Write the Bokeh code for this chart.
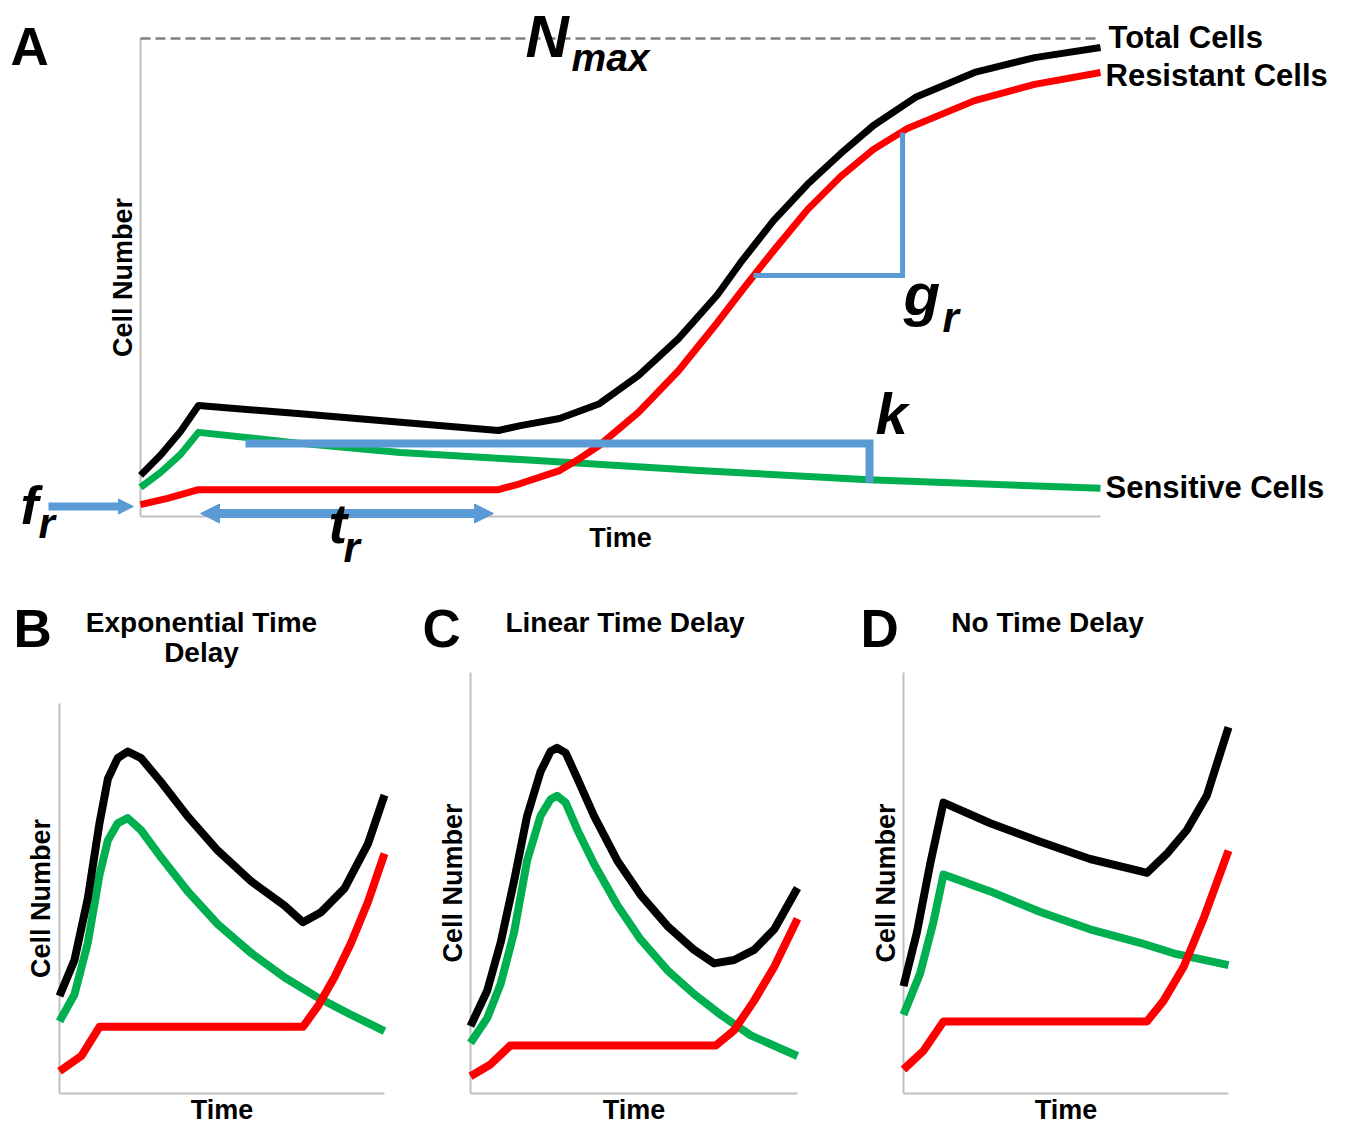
import math
from bokeh.plotting import figure
from bokeh.layouts import column, row
from bokeh.models import Label, Arrow, NormalHead, Range1d
from bokeh.embed import file_html
from bokeh.resources import INLINE

FONT = "Liberation Sans"
BLACK = "#000000"
RED = "#FF0000"
GREEN = "#00B050"
BLUE = "#5B9BD5"
AXIS = "#BFBFBF"

# ---------------- shared axis extents (time 0-100, cell number 0-100; 100 = N_max)
time_bounds = [0, 100]
cell_bounds = [0, 100]
zero_line = [0, 0]

# ---------------- Panel A data
a_time_total = [0, 2.08, 4.17, 6.04, 16.67, 27.08, 37.29, 39.58, 43.65, 47.81, 51.88, 56.04,
                60.1, 62.5, 65.94, 69.48, 72.92, 76.35, 80.73, 86.88, 93.13, 100]
a_total = [8.6, 12.8, 17.8, 23.2, 21.5, 19.7, 18.0, 19.0, 20.5, 23.6, 29.5, 37.2,
           46.4, 53.1, 61.9, 69.5, 75.9, 81.8, 87.7, 92.9, 96.0, 98.1]
a_time_res = [0, 2.81, 6.04, 37.29, 39.58, 43.65, 45.73, 47.81, 51.88, 56.04, 60.1, 62.5, 65.94,
              69.48, 72.92, 76.35, 79.9, 86.88, 93.13, 100]
a_res = [2.5, 3.8, 5.6, 5.6, 6.9, 9.6, 12.1, 14.9, 21.8, 30.5, 40.6, 46.9, 55.6,
         64.2, 71.1, 76.8, 81.2, 87.0, 90.4, 92.9]
a_time_sens = [0, 2.08, 4.17, 6.04, 16.67, 27.08, 39.58, 58.13, 75.83, 100]
a_sens = [6.1, 9.2, 13.0, 17.6, 15.3, 13.4, 11.9, 9.6, 7.7, 5.9]
n_max = [100, 100]

# parameter markers in panel A
k_time = [10.94, 75.94, 75.94]
k_level = [15.27, 15.27, 7.11]
g_time = [63.85, 79.38, 79.38]
g_level = [50.42, 50.42, 80.33]
fr_time = [-9.58, -0.73]
fr_level = 2.09
tr_time = [6.25, 36.77]
tr_level = 0.63

# ---------------- Panel B: exponential time delay
b_time_total = [0, 4.6, 8.7, 12.3, 14.9, 17.9, 21.0, 25.1, 31.3, 39.5, 48.7, 59.0, 69.2, 74.9, 80.5, 87.7, 94.9, 100]
b_total = [25.0, 34.2, 50.0, 69.3, 80.7, 86.0, 87.7, 86.0, 79.8, 71.0, 62.3, 54.4, 48.2, 43.9, 46.5, 52.6, 64.0, 76.5]
b_time_sens = [0, 4.6, 8.7, 12.3, 14.9, 17.9, 21.0, 25.1, 31.3, 39.5, 48.7, 59.0, 69.2, 79.5, 89.7, 100]
b_sens = [18.5, 25.4, 38.6, 56.1, 64.9, 69.3, 70.6, 67.5, 60.5, 51.8, 43.4, 36.0, 29.8, 24.6, 20.2, 16.0]
b_time_res = [0, 6.7, 12.3, 74.9, 79.5, 84.6, 89.7, 94.9, 100]
b_res = [5.7, 9.6, 17.1, 17.1, 22.4, 29.8, 38.6, 49.1, 61.5]

# ---------------- Panel C: linear time delay
c_time_total = [0, 5.1, 9.2, 13.3, 17.3, 21.4, 24.5, 26.5, 29.1, 32.7, 37.8, 44.9, 52.0, 60.2, 68.4, 74.5, 80.6, 86.7, 92.9, 100]
c_total = [16.0, 24.4, 35.8, 50.4, 65.9, 76.4, 81.3, 82.1, 80.9, 74.8, 65.9, 55.3, 47.2, 39.8, 34.1, 30.9, 31.7, 34.1, 39.0, 48.8]
c_time_sens = [0, 5.1, 9.2, 13.3, 17.3, 21.4, 24.5, 26.5, 29.1, 32.7, 37.8, 44.9, 52.0, 60.2, 68.4, 76.5, 85.7, 100]
c_sens = [12.0, 17.9, 26.0, 38.2, 55.3, 65.9, 69.9, 70.7, 69.1, 62.6, 54.5, 44.7, 36.6, 29.3, 23.6, 18.7, 13.8, 8.9]
c_time_res = [0, 6.1, 12.2, 75.0, 80.6, 86.7, 92.9, 100]
c_res = [4.1, 6.9, 11.4, 11.4, 15.0, 22.0, 30.1, 41.5]

# ---------------- Panel D: no time delay
d_time_total = [0, 4.1, 8.2, 12.3, 26.7, 42.1, 57.4, 72.8, 74.9, 81.0, 87.2, 93.3, 100]
d_total = [25.5, 38.2, 54.5, 69.1, 64.2, 59.8, 55.7, 52.8, 52.4, 56.9, 62.6, 70.7, 87.0]
d_time_sens = [0, 5.1, 9.2, 12.3, 26.7, 42.1, 57.4, 72.8, 83.1, 100]
d_sens = [18.7, 28.5, 40.7, 52.0, 48.0, 43.1, 39.0, 35.8, 33.3, 30.5]
d_time_res = [0, 6.2, 12.3, 74.9, 80.0, 86.2, 92.3, 100]
d_res = [5.7, 10.2, 17.1, 17.1, 22.0, 30.1, 41.5, 57.7]

series_names = ["Total Cells", "Resistant Cells", "Sensitive Cells"]
panel_titles = [["Exponential Time", "Delay"], ["Linear Time Delay"], ["No Time Delay"]]
panel_letters = ["A", "B", "C", "D"]
x_title = "Time"
y_title = "Cell Number"

MID = 0.35  # distance (in em) from the alphabetic baseline to the text middle


class Panel:
    """A figure whose frame fills the figure; data (0..100) sits on the given pixel box."""

    def __init__(self, page_box, plot_box):
        x0, y0, x1, y1 = page_box
        left, top, right, bottom = plot_box
        self.left, self.bottom = left, bottom
        self.kx = (right - left) / 100.0
        self.ky = (bottom - top) / 100.0
        p = figure(width=x1 - x0, height=y1 - y0,
                   x_range=Range1d(self.dx(x0), self.dx(x1)),
                   y_range=Range1d(self.dy(y1), self.dy(y0)),
                   x_axis_location=None, y_axis_location=None,
                   min_border=0, output_backend="svg", toolbar_location=None)
        p.outline_line_color = None
        p.background_fill_color = "white"
        p.border_fill_color = "white"
        p.xgrid.visible = False
        p.ygrid.visible = False
        # axis rules
        p.line(zero_line, cell_bounds, line_color=AXIS, line_width=2)
        p.line(time_bounds, zero_line, line_color=AXIS, line_width=2)
        self.p = p

    def dx(self, px):
        return (px - self.left) / self.kx

    def dy(self, py):
        return (self.bottom - py) / self.ky

    def text(self, px, py, txt, size, style="bold", align="left", vertical=False):
        # (px, py): pixel position of the text's baseline start / centre
        if vertical:
            px = px - MID * size
            angle = math.pi / 2
        else:
            py = py - MID * size
            angle = 0.0
        self.p.add_layout(Label(x=self.dx(px), y=self.dy(py), text=txt, text_font=FONT,
                                text_font_size=f"{size}px", text_font_style=style,
                                text_align=align, text_baseline="middle",
                                text_color="black", angle=angle))


# ================= Panel A
A = Panel((0, 0, 1351, 585), (140, 38, 1100, 516))
pA = A.p
pA.line(time_bounds, n_max, line_color="#808080", line_width=2.5, line_dash="10 5")

pA.line(a_time_sens, a_sens, line_color=GREEN, line_width=7, line_join="round")
pA.line(a_time_res, a_res, line_color=RED, line_width=7, line_join="round")
pA.line(a_time_total, a_total, line_color=BLACK, line_width=7, line_join="round")

pA.line(k_time, k_level, line_color=BLUE, line_width=8, line_join="miter")
pA.line(g_time, g_level, line_color=BLUE, line_width=5, line_join="miter")

pA.add_layout(Arrow(end=NormalHead(size=15, fill_color=BLUE, line_color=BLUE, line_width=1),
                    x_start=fr_time[0], y_start=fr_level, x_end=fr_time[1], y_end=fr_level,
                    line_color=BLUE, line_width=8))
pA.add_layout(Arrow(start=NormalHead(size=19, fill_color=BLUE, line_color=BLUE, line_width=1),
                    end=NormalHead(size=19, fill_color=BLUE, line_color=BLUE, line_width=1),
                    x_start=tr_time[0], y_start=tr_level, x_end=tr_time[1], y_end=tr_level,
                    line_color=BLUE, line_width=9))

A.text(10, 65, panel_letters[0], 53)
A.text(132, 277, y_title, 27, align="center", vertical=True)
A.text(620, 547, x_title, 27, align="center")
A.text(525, 57, "N", 60, "bold italic")
A.text(571, 71, "max", 39, "bold italic")
A.text(20, 523, "f", 54, "bold italic")
A.text(38, 538, "r", 42, "bold italic")
A.text(328, 543, "t", 56, "bold italic")
A.text(343, 562, "r", 42, "bold italic")
A.text(875, 433, "k", 58, "bold italic")
A.text(903, 315, "g", 60, "bold italic")
A.text(942, 332, "r", 42, "bold italic")
A.text(1108, 48, series_names[0], 31)
A.text(1105, 86, series_names[1], 31)
A.text(1105, 498, series_names[2], 31)


# ================= Bottom panels
def small_panel(page_box, plot_box, tt, tn, st, sn, rt, rn):
    P = Panel(page_box, plot_box)
    p = P.p
    p.line(st, sn, line_color=GREEN, line_width=8, line_join="round")
    p.line(rt, rn, line_color=RED, line_width=8, line_join="round")
    p.line(tt, tn, line_color=BLACK, line_width=8, line_join="round")
    return P


B = small_panel((0, 585, 420, 1125), (59, 703, 384, 1093),
                b_time_total, b_total, b_time_sens, b_sens, b_time_res, b_res)
B.text(13, 647, panel_letters[1], 53)
B.text(201, 632, panel_titles[0][0], 28, align="center")
B.text(201, 662, panel_titles[0][1], 28, align="center")
B.text(50, 898, y_title, 27, align="center", vertical=True)
B.text(221.5, 1119, x_title, 27, align="center")

C = small_panel((420, 585, 850, 1125), (470, 672, 797, 1093),
                c_time_total, c_total, c_time_sens, c_sens, c_time_res, c_res)
C.text(422, 647, panel_letters[2], 53)
C.text(624.5, 632, panel_titles[1][0], 28, align="center")
C.text(462, 882.5, y_title, 27, align="center", vertical=True)
C.text(633.5, 1119, x_title, 27, align="center")

D = small_panel((850, 585, 1351, 1125), (903, 672, 1228, 1093),
                d_time_total, d_total, d_time_sens, d_sens, d_time_res, d_res)
D.text(860, 647, panel_letters[3], 53)
D.text(1047, 632, panel_titles[2][0], 28, align="center")
D.text(895, 882.5, y_title, 27, align="center", vertical=True)
D.text(1065.5, 1119, x_title, 27, align="center")

layout = column(A.p, row(B.p, C.p, D.p))
open("out.html", "w").write(file_html(layout, INLINE))
